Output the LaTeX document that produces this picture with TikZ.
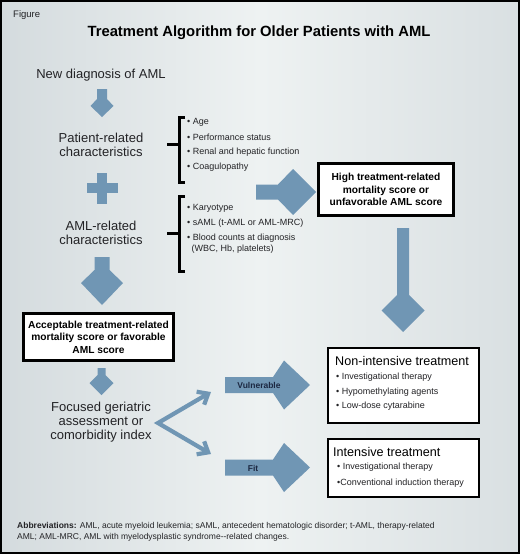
\documentclass[tikz,border=0pt]{standalone}
\usepackage{fontspec}
\setmainfont{Liberation Sans}
\usetikzlibrary{arrows.meta}
\definecolor{arrowblue}{RGB}{112,150,180}
\definecolor{txt}{RGB}{35,35,38}
\definecolor{navy}{RGB}{28,40,66}
\definecolor{bgedge}{RGB}{212,219,222}
\definecolor{bgmid}{RGB}{238,242,242}
\newcommand{\chevdown}[7]{\fill[arrowblue] ({#1-#6},#2) -- ({#1-#6},#3) -- ({#1-#7},#4) -- (#1,#5) -- ({#1+#7},#4) -- ({#1+#6},#3) -- ({#1+#6},#2) -- cycle;}
\newcommand{\chevright}[7]{\fill[arrowblue] (#2,{#1-#6}) -- (#3,{#1-#6}) -- (#4,{#1-#7}) -- (#5,#1) -- (#4,{#1+#7}) -- (#3,{#1+#6}) -- (#2,{#1+#6}) -- cycle;}
\tikzset{
  bigtxt/.style={font=\fontsize{13}{14.2}\selectfont, text=txt, align=center, inner sep=0pt},
  bul/.style={font=\fontsize{9}{10.5}\selectfont, text=txt, anchor=west, inner sep=0pt},
  boxtitle/.style={font=\fontsize{12.6}{14}\selectfont, text=black, anchor=west, inner sep=0pt},
  thickbox/.style={draw=black, line width=3pt, fill=white, outer sep=0pt, inner sep=0pt,
     font=\bfseries\fontsize{10.2}{12.5}\selectfont, align=center, text=black},
  thinbox/.style={draw=black, line width=2pt, fill=white, outer sep=0pt, inner sep=0pt},
  bracket/.style={draw=black, line width=3pt, line join=miter},
  arrlabel/.style={font=\bfseries\fontsize{8.5}{10}\selectfont, text=navy, inner sep=0pt},
  varrow/.style={draw=arrowblue, line width=4.2pt, line join=miter,
     {Straight Barb[length=9pt,width=15pt]}-{Straight Barb[length=9pt,width=15pt]}}
}
\begin{document}
\begin{tikzpicture}[x=1pt,y=-1pt]
\useasboundingbox (0,0) rectangle (520,554);
% background
\shade[left color=bgedge, right color=bgedge!80!bgmid, middle color=bgmid] (1,1) rectangle (519,553);
\draw[line width=2pt, black] (1,1) rectangle (519,553);

\node[font=\fontsize{9.5}{11}\selectfont, text=txt, anchor=west, inner sep=0pt] (fig) at (13,15) {Figure};
\node[font=\bfseries\fontsize{14.8}{17}\selectfont, text=black, inner sep=0pt] (title) at (259,33) {Treatment Algorithm for Older Patients with AML};

\node[bigtxt] (newdx) at (101,75) {New diagnosis of AML};
\chevdown{102}{89}{99}{106}{117}{5}{11.5}
\node[bigtxt] (patient) at (101,145) {Patient-related\\characteristics};
% plus
\fill[arrowblue] (86.5,183) rectangle (117.5,193);
\fill[arrowblue] (97,172.5) rectangle (107,203.5);
\node[bigtxt] (amlrel) at (101,233) {AML-related\\characteristics};
\chevdown{102}{257}{270}{283}{305}{7.5}{21}

% brackets
\draw[bracket] (185,117) -- (179,117) -- (179,182) -- (185,182);
\draw[bracket] (167,144) -- (179,144);
\draw[bracket] (185,196) -- (179,196) -- (179,271) -- (185,271);
\draw[bracket] (167,233) -- (179,233);

\node[bul] (b1) at (187,122) {• Age};
\node[bul] (b2) at (187,137) {• Performance status};
\node[bul] (b3) at (187,152) {• Renal and hepatic function};
\node[bul] (b4) at (187,167) {• Coagulopathy};
\node[bul] (c1) at (187,208) {• Karyotype};
\node[bul] (c2) at (187,223) {• sAML (t-AML or AML-MRC)};
\node[bul] (c3) at (187,238) {• Blood counts at diagnosis};
\node[bul] (c4) at (191.5,249) {(WBC, Hb, platelets)};

% big right arrow
\chevright{192}{256}{278}{293}{316}{7.5}{23}

% high box
\node[thickbox, minimum width=135pt, minimum height=52pt] (high) at (386,189.5) {High treatment-related\\mortality score or\\unfavorable AML score};
\chevdown{403}{228}{295}{310.5}{332}{6}{21.5}

% acceptable box
\node[thickbox, minimum width=150pt, minimum height=47pt] (accept) at (98.5,337) {Acceptable treatment-related\\mortality score or favorable\\AML score};
\chevdown{101.5}{368}{375}{383}{395}{4}{12}

\node[bigtxt] (focus) at (101,422) {Focused geriatric\\assessment or\\comorbidity index};

% V arrows
\coordinate (vtx) at (158,423);
\coordinate (vup) at (211,392);
\coordinate (vdn) at (211,454);
\draw[varrow] (vup) -- (vtx) -- (vdn);

% vulnerable / fit arrows
\chevright{385}{225}{273}{284}{310}{8}{24.5}
\node[arrlabel] (vuln) at (259,385) {Vulnerable};
\chevright{467.5}{225}{273}{284}{310}{8}{24.5}
\node[arrlabel] (fit) at (253,468) {Fit};

% non-intensive box
\node[thinbox, minimum width=151pt, minimum height=75pt] (nonint) at (403.5,385.5) {};
\node[boxtitle] (nt) at (335,361) {Non-intensive treatment};
\node[bul] (n1) at (336,377) {• Investigational therapy};
\node[bul] (n2) at (336,392) {• Hypomethylating agents};
\node[bul] (n3) at (336,406) {• Low-dose cytarabine};

% intensive box
\node[thinbox, minimum width=151pt, minimum height=58pt] (intens) at (403.5,468) {};
\node[boxtitle] (it) at (333,451.5) {Intensive treatment};
\node[bul] (i1) at (337,467) {• Investigational therapy};
\node[bul] (i2) at (337,483) {•Conventional induction therapy};

% abbreviations
\node[font=\fontsize{8.5}{11.5}\selectfont, text=txt, anchor=west, inner sep=0pt, align=left] (abbr) at (17,532) {\textbf{Abbreviations:} AML, acute myeloid leukemia; sAML, antecedent hematologic disorder; t-AML, therapy-related\\AML; AML-MRC, AML with myelodysplastic syndrome-{}-related changes.};
\end{tikzpicture}
\end{document}
